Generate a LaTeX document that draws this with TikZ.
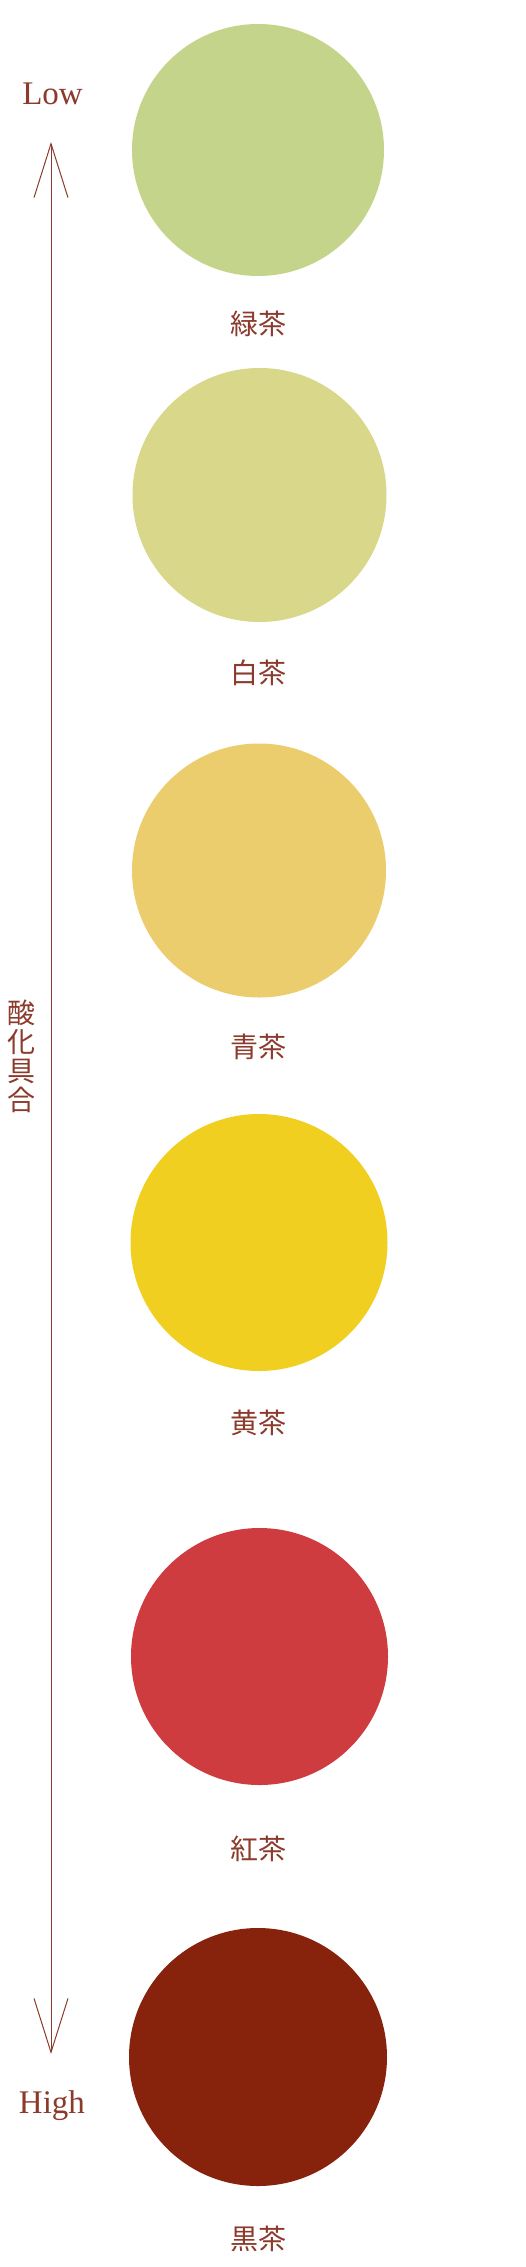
\documentclass[tikz,border=0pt]{standalone}
\usepackage{fontspec}
\setmainfont{Liberation Serif}
\newfontfamily\cjk{Noto Sans CJK JP}
\usetikzlibrary{arrows.meta}
\definecolor{txt}{HTML}{8B3A2B}
\definecolor{lnc}{HTML}{8B3A2E}
\definecolor{cA}{HTML}{C5D48B}
\definecolor{cB}{HTML}{D8D78A}
\definecolor{cC}{HTML}{ECCD6D}
\definecolor{cD}{HTML}{F0CF20}
\definecolor{cE}{HTML}{CF3C40}
\definecolor{cF}{HTML}{87230C}
\tikzset{
  tea/.style={circle, inner sep=0pt, minimum size=#1},
  tealabel/.style={text=txt, inner sep=0pt, font=\cjk\fontsize{28}{30}\selectfont},
  endlabel/.style={text=txt, inner sep=0pt, anchor=base, font=\fontsize{33}{36}\selectfont},
  axis/.style={draw=lnc, line width=1pt, {Straight Barb[length=54pt,width=34pt]}-{Straight Barb[length=54pt,width=34pt]}},
  vlabel/.style={text=txt, inner sep=0pt, align=center, font=\cjk\fontsize{28}{29}\selectfont}
}
\begin{document}
\begin{tikzpicture}[x=1pt,y=-1pt]
\path[use as bounding box, fill=white] (0,0) rectangle (525,2267);
\node[tea=252pt, fill=cA] (c1) at (258,150) {};
\node[tea=254pt, fill=cB] (c2) at (259.5,495) {};
\node[tea=254pt, fill=cC] (c3) at (259,870.5) {};
\node[tea=257pt, fill=cD] (c4) at (259,1242.5) {};
\node[tea=257pt, fill=cE] (c5) at (259.5,1656.5) {};
\node[tea=258pt, fill=cF] (c6) at (258,2057) {};
\node[tealabel] (l1) at (258,323.5) {緑茶};
\node[tealabel] (l2) at (258.5,672.5) {白茶};
\node[tealabel] (l3) at (258.5,1046.5) {青茶};
\node[tealabel] (l4) at (258.5,1422.5) {黄茶};
\node[tealabel] (l5) at (258.5,1848.5) {紅茶};
\node[tealabel] (l6) at (258.5,2239) {黒茶};
\node[endlabel] (low) at (52.5,104) {Low};
\node[endlabel] (high) at (52,2113) {High};
\coordinate (top) at (51,142);
\coordinate (bot) at (51,2054);
\draw[axis] (top) -- (bot);
\node[vlabel] (v) at (21,1056) {酸\\化\\具\\合};
\end{tikzpicture}
\end{document}
